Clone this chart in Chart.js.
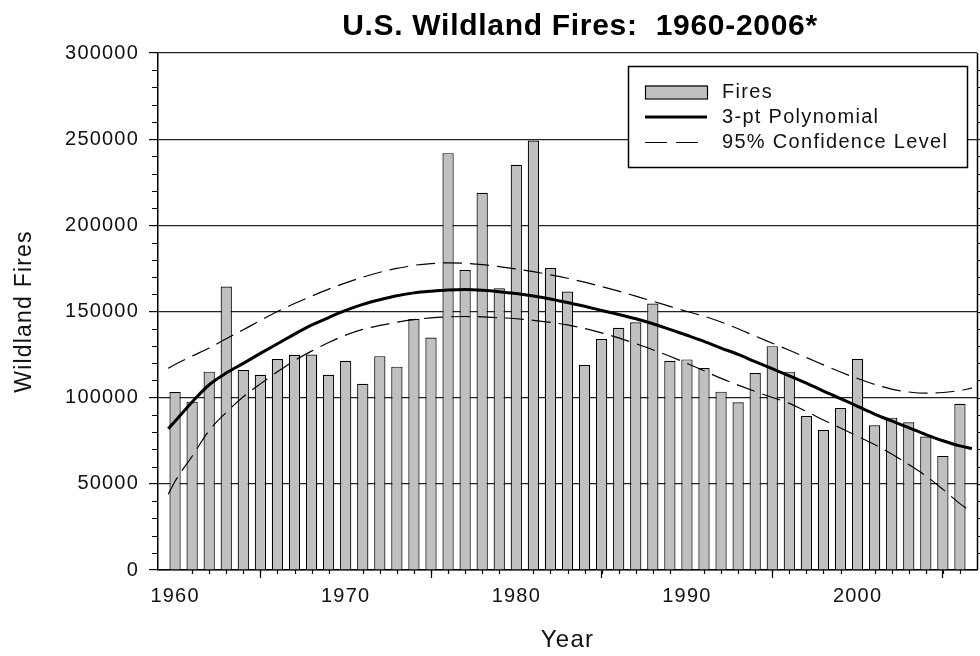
<!DOCTYPE html>
<html><head><meta charset="utf-8">
<script src="https://cdn.jsdelivr.net/npm/chart.js@4.4.1/dist/chart.umd.min.js"></script>
<style>html,body{margin:0;padding:0;background:#fff;}canvas{display:block;}</style>
</head><body>
<canvas id="c" width="980" height="656"></canvas>
<script>
const chartTitle = 'U.S. Wildland Fires:  1960-2006*';
const xAxisTitle = 'Year';
const yAxisTitle = 'Wildland Fires';
const seriesNames = ['Fires', '3-pt Polynomial', '95% Confidence Level'];

const years = [1960,1961,1962,1963,1964,1965,1966,1967,1968,1969,
  1970,1971,1972,1973,1974,1975,1976,1977,1978,1979,
  1980,1981,1982,1983,1984,1985,1986,1987,1988,1989,
  1990,1991,1992,1993,1994,1995,1996,1997,1998,1999,
  2000,2001,2002,2003,2004,2005,2006];
const fires = [103300,97700,115100,164500,116000,113300,122400,124900,125000,113300,
  121400,108100,124100,118000,145600,134900,241900,174100,218900,163500,
  235100,249200,175300,161600,118900,134000,140500,143800,154600,121400,
  122200,117200,103500,97300,114300,129900,115100,89400,81300,94000,
  122400,84000,88400,85700,77400,66200,96500];

const curveYears = [1959.6,1960,1961,1962,1963,1964,1965,1966,1967,1968,1969,
  1970,1971,1972,1973,1974,1975,1976,1977,1978,1979,
  1980,1981,1982,1983,1984,1985,1986,1987,1988,1989,
  1990,1991,1992,1993,1994,1995,1996,1997,1998,1999,
  2000,2001,2002,2003,2004,2005,2006,2006.7];
const polyFit = [82000,86300,97500,107500,114300,119900,125700,131300,136900,142100,146500,
  150600,154100,156800,159100,160800,161800,162500,162700,162300,161500,
  160400,159000,157300,155200,153000,150600,148300,145800,142900,139600,
  136200,132700,128800,125100,120900,116800,112700,108500,103800,99500,
  95000,90500,86500,82600,78600,75000,72000,70500];
const upperCL = [117000,119300,124100,128800,134200,139400,144800,150000,154600,158900,163000,
  166600,169900,172800,175000,176800,177800,178200,178000,177200,176000,
  174700,173100,171300,169300,167000,164500,161800,158900,156000,153000,
  150000,147300,143900,140000,135700,131600,127500,123300,119000,114900,
  111100,107700,105000,103300,102600,103000,104200,105500];
const lowerCL = [44000,51500,66000,81000,91500,100500,108000,115000,121500,127000,132000,
  136300,139600,141900,143800,145300,146300,146900,147100,146900,146400,
  145800,144900,143700,142200,140100,137600,134700,131400,127800,124000,
  119900,115600,111200,107300,103600,100100,96700,92000,87000,82400,
  77600,72800,67300,61200,54600,46800,38500,33500];

const xTickValues = [1960,1970,1980,1990,2000];
const xTickLabels = ['1960','1970','1980','1990','2000'];
const yTickValues = [0,50000,100000,150000,200000,250000,300000];
const yTickLabels = ['0','50000','100000','150000','200000','250000','300000'];

const FONT = '"Liberation Sans", Arial, sans-serif';
const TEXT = '#111';

const decor = {
  id: 'decor',
  beforeUpdate(chart){ chart.ctx.letterSpacing = '1.2px'; },
  beforeDraw(chart){
    chart.ctx.letterSpacing = '1.2px';
    const c = chart.ctx; c.save(); c.fillStyle = '#fff'; c.fillRect(0,0,chart.width,chart.height); c.restore();
  },
  afterDraw(chart){
    const ctx = chart.ctx, a = chart.chartArea, x = chart.scales.x, y = chart.scales.y;
    ctx.save();
    ctx.strokeStyle = '#000';
    ctx.lineWidth = 1.2;
    ctx.beginPath();
    years.forEach(yr => {
      if (xTickValues.indexOf(yr) >= 0) return;
      const px = Math.round(x.getPixelForValue(yr)) + 0.5;
      ctx.moveTo(px, a.bottom); ctx.lineTo(px, a.bottom + 4);
    });
    for (let k = 1; k < 30; k++) {
      const v = k * 10000;
      const py = Math.round(y.getPixelForValue(v)) + 0.5;
      if (yTickValues.indexOf(v) < 0) {
        ctx.moveTo(a.left - 6, py); ctx.lineTo(a.left, py);
        ctx.moveTo(a.right, py); ctx.lineTo(a.right + 4, py);
      } else {
        ctx.moveTo(a.right, py); ctx.lineTo(a.right + 8, py);
      }
    }
    ctx.stroke();
    ctx.lineWidth = 1.5;
    ctx.beginPath();
    ctx.moveTo(a.right + 0.5, a.top); ctx.lineTo(a.right + 0.5, a.bottom);
    ctx.stroke();

    // title
    ctx.fillStyle = '#000';
    ctx.letterSpacing = '0.7px';
    ctx.font = 'bold 30px ' + FONT;
    ctx.textAlign = 'center';
    ctx.textBaseline = 'alphabetic';
    ctx.fillText(chartTitle, 580, 35);

    // legend
    const ds = chart.data.datasets;
    const bx = 628.5, by = 66.5, bw = 339, bh = 101;
    ctx.fillStyle = '#fff';
    ctx.fillRect(bx, by, bw, bh);
    ctx.lineWidth = 1.5; ctx.strokeStyle = '#000';
    ctx.strokeRect(bx, by, bw, bh);
    const sx = 645, sw = 62, tx = 722;
    const rows = [92, 117, 142];
    ctx.fillStyle = ds[2].backgroundColor;
    ctx.fillRect(sx, rows[0] - 6.5, sw, 13);
    ctx.lineWidth = ds[2].borderWidth; ctx.strokeStyle = ds[2].borderColor;
    ctx.strokeRect(sx + 0.5, rows[0] - 6, sw, 13);
    ctx.lineWidth = ds[0].borderWidth; ctx.strokeStyle = ds[0].borderColor;
    ctx.beginPath(); ctx.moveTo(sx, rows[1]); ctx.lineTo(sx + sw, rows[1]); ctx.stroke();
    ctx.lineWidth = ds[1].borderWidth; ctx.strokeStyle = ds[1].borderColor;
    ctx.setLineDash([22, 9]);
    ctx.beginPath(); ctx.moveTo(sx, rows[2] + 0.5); ctx.lineTo(sx + 55, rows[2] + 0.5); ctx.stroke();
    ctx.setLineDash([]);
    ctx.fillStyle = TEXT;
    ctx.letterSpacing = '1.3px';
    ctx.font = '20px ' + FONT;
    ctx.textAlign = 'left';
    ctx.textBaseline = 'middle';
    ctx.fillText(seriesNames[0], tx, rows[0]);
    ctx.fillText(seriesNames[1], tx, rows[1]);
    ctx.fillText(seriesNames[2], tx, rows[2]);
    ctx.restore();
  }
};

const toPts = (xs, ys) => xs.map((v, i) => ({x: v, y: ys[i]}));

new Chart(document.getElementById('c'), {
  data: {
    datasets: [
      {type: 'line', label: seriesNames[1], data: toPts(curveYears, polyFit), borderColor: '#000', borderWidth: 3,
       pointRadius: 0, fill: false, tension: 0.4, cubicInterpolationMode: 'monotone', order: 0},
      {type: 'line', label: seriesNames[2], data: toPts(curveYears, upperCL), borderColor: '#000', borderWidth: 1.2,
       borderDash: [19, 8], pointRadius: 0, fill: false, cubicInterpolationMode: 'monotone', order: 1},
      {type: 'bar', label: seriesNames[0], data: toPts(years, fires), backgroundColor: '#c0c0c0', borderColor: '#000',
       borderWidth: 1.2, barPercentage: 0.66, categoryPercentage: 1, order: 3},
      {type: 'line', label: seriesNames[2], data: toPts(curveYears, lowerCL), borderColor: '#000', borderWidth: 1.2,
       borderDash: [19, 8], pointRadius: 0, fill: false, cubicInterpolationMode: 'monotone', order: 2}
    ]
  },
  options: {
    responsive: false, animation: false, devicePixelRatio: 1,
    layout: {padding: {top: 53, right: 3, left: 0, bottom: 0}},
    plugins: {legend: {display: false}, title: {display: false}, tooltip: {enabled: false}},
    scales: {
      x: {
        type: 'linear', min: 1959, max: 2007, offset: false,
        afterBuildTicks: s => { s.ticks = xTickValues.map(v => ({value: v})); },
        afterFit: s => { s.height = 86; },
        ticks: {callback: (v, i) => xTickLabels[i], font: {family: FONT, size: 20}, color: TEXT,
                padding: 6, maxRotation: 0, autoSkip: false},
        grid: {drawOnChartArea: false, tickLength: 8, tickColor: '#000', tickWidth: 1.2},
        border: {color: '#000', width: 1.5},
        title: {display: true, text: xAxisTitle, font: {family: FONT, size: 24}, color: TEXT, padding: {top: 0, bottom: 1}}
      },
      y: {
        min: 0, max: 300000,
        afterBuildTicks: s => { s.ticks = yTickValues.map(v => ({value: v})); },
        afterFit: s => { s.width = 158; },
        ticks: {callback: (v, i) => yTickLabels[i], font: {family: FONT, size: 20}, color: TEXT, padding: 10},
        grid: {color: '#222', lineWidth: 1.2, tickLength: 9, tickColor: '#000', tickWidth: 1.2},
        border: {color: '#000', width: 1.5},
        title: {display: true, text: yAxisTitle, font: {family: FONT, size: 23}, color: TEXT, padding: {top: 11, bottom: 0}}
      }
    }
  },
  plugins: [decor]
});
</script>
</body></html>
